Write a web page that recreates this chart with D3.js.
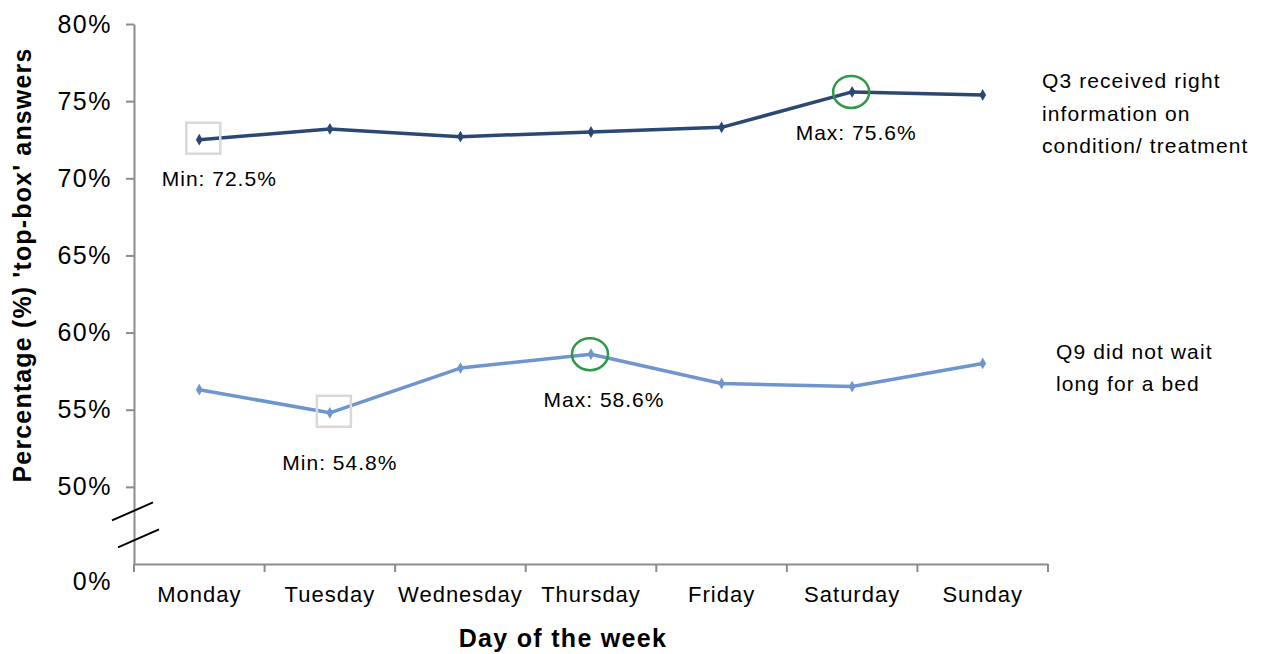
<!DOCTYPE html>
<html>
<head>
<meta charset="utf-8">
<script src="https://cdn.jsdelivr.net/npm/d3@7"></script>
<style>
  body { margin: 0; background: #fff; }
  text { font-family: 'Liberation Sans', Arial, sans-serif; fill: #000; }
</style>
</head>
<body>
<script>
const days = ['Monday', 'Tuesday', 'Wednesday', 'Thursday', 'Friday', 'Saturday', 'Sunday'];
const q3Values = [72.5, 73.2, 72.7, 73.0, 73.3, 75.6, 75.4];
const q9Values = [56.3, 54.8, 57.7, 58.6, 56.7, 56.5, 58.0];
// 45 is where the broken axis shows 0%
const tickValues = [45, 50, 55, 60, 65, 70, 75, 80];
const tickLabels = ['0%', '50%', '55%', '60%', '65%', '70%', '75%', '80%'];
const q3Label = ['Q3 received right', 'information  on', 'condition/  treatment'];
const q9Label = ['Q9 did not wait', 'long for a bed'];
const minMax = [
  { series: 'q3', day: 'Monday', kind: 'Min', value: 72.5 },
  { series: 'q3', day: 'Saturday', kind: 'Max', value: 75.6 },
  { series: 'q9', day: 'Tuesday', kind: 'Min', value: 54.8 },
  { series: 'q9', day: 'Thursday', kind: 'Max', value: 58.6 },
];
// where each min/max caption sits relative to its point
const captionOffsets = [[20, 46], [4, 48], [10, 57], [13, 53]];

const W = 1264, H = 654;
const plotLeft = 134, plotRight = 1048, plotTop = 24, plotBottom = 564;
const COLORS = { q3: '#2b4774', q9: '#6f95cf' };

const svg = d3.select('body').append('svg').attr('width', W).attr('height', H);

const x = d3.scaleBand().domain(days).range([plotLeft, plotRight]);
const y = d3.scaleLinear().domain([45, 80]).range([plotBottom, plotTop]);

// y axis
const yAxis = svg.append('g').attr('transform', `translate(${plotLeft},0)`)
  .call(d3.axisLeft(y).tickValues(tickValues).tickSize(8).tickSizeOuter(0)
    .tickFormat((d, i) => tickLabels[i]));
yAxis.select('.domain').attr('stroke', '#8c8c8c').attr('stroke-width', 2);
yAxis.selectAll('.tick line').attr('stroke', '#8c8c8c').attr('stroke-width', 2);
yAxis.selectAll('.tick text')
  .attr('x', -22).attr('font-size', 25).attr('letter-spacing', 1.5).attr('fill', '#000')
  .attr('font-family', "'Liberation Sans', Arial, sans-serif");
yAxis.selectAll('.tick').filter((d) => d === 45).select('text').attr('dy', '1.0em');
yAxis.selectAll('.tick').filter((d) => d === 45).select('line').remove();

// x axis
const xAxis = svg.append('g').attr('transform', `translate(0,${plotBottom})`)
  .call(d3.axisBottom(x).tickSize(0).tickSizeOuter(0));
xAxis.select('.domain').attr('stroke', '#8c8c8c').attr('stroke-width', 2);
xAxis.selectAll('.tick text')
  .attr('y', 38).attr('dy', 0).attr('font-size', 22).attr('letter-spacing', 1).attr('fill', '#000')
  .attr('font-family', "'Liberation Sans', Arial, sans-serif");
const bounds = days.map((d) => x(d)).concat([plotRight]);
xAxis.selectAll('.sep').data(bounds).join('line')
  .attr('x1', (d) => d).attr('x2', (d) => d)
  .attr('y1', 0).attr('y2', 8)
  .attr('stroke', '#8c8c8c').attr('stroke-width', 2);

// axis break marks
const breakY = [(y(45) + y(50)) / 2 - 14, (y(45) + y(50)) / 2 + 13];
svg.selectAll('.brk').data(breakY).join('line')
  .attr('x1', (d, i) => plotLeft - 22 + i * 6).attr('y1', (d) => d + 9)
  .attr('x2', (d, i) => plotLeft + 19 + i * 6).attr('y2', (d) => d - 9)
  .attr('stroke', '#000').attr('stroke-width', 2);

const cx = (d) => x(d) + x.bandwidth() / 2;
const line = d3.line().x((d, i) => cx(days[i])).y((d) => y(d));

const series = [
  { key: 'q3', values: q3Values },
  { key: 'q9', values: q9Values },
];

series.forEach((s) => {
  svg.append('path')
    .attr('d', line(s.values))
    .attr('fill', 'none')
    .attr('stroke', COLORS[s.key])
    .attr('stroke-width', 3.5)
    .attr('stroke-linejoin', 'round');
  svg.selectAll('.m-' + s.key).data(s.values).join('path')
    .attr('d', d3.symbol(d3.symbolDiamond, 40))
    .attr('transform', (d, i) => `translate(${cx(days[i])},${y(d)})`)
    .attr('fill', COLORS[s.key]);
});

// min / max highlights
minMax.forEach((m, i) => {
  const px = cx(m.day), py = y(m.value);
  if (m.kind === 'Max') {
    svg.append('ellipse')
      .attr('cx', px - 1).attr('cy', py)
      .attr('rx', 18).attr('ry', 16)
      .attr('fill', 'none').attr('stroke', '#2e9a47').attr('stroke-width', 2.5);
  } else {
    svg.append('rect')
      .attr('x', px - 13).attr('y', py - 17)
      .attr('width', 34).attr('height', 31)
      .attr('fill', 'none').attr('stroke', '#d9d9d9').attr('stroke-width', 2.5);
  }
  svg.append('text')
    .attr('x', px + captionOffsets[i][0]).attr('y', py + captionOffsets[i][1])
    .attr('text-anchor', 'middle')
    .attr('font-size', 21).attr('letter-spacing', 1)
    .text(`${m.kind}: ${m.value.toFixed(1)}%`);
});

// series labels
svg.append('text').attr('x', 1042).attr('y', 88).attr('font-size', 21).attr('letter-spacing', 1.1)
  .selectAll('tspan').data(q3Label).join('tspan')
  .attr('x', 1042).attr('dy', (d, i) => (i ? 32.5 : 0)).text((d) => d);
svg.append('text').attr('x', 1056).attr('y', 359).attr('font-size', 21).attr('letter-spacing', 1.1)
  .selectAll('tspan').data(q9Label).join('tspan')
  .attr('x', 1056).attr('dy', (d, i) => (i ? 31.5 : 0)).text((d) => d);

// axis titles
svg.append('text')
  .attr('transform', `translate(31,${265}) rotate(-90)`)
  .attr('text-anchor', 'middle')
  .attr('font-size', 25).attr('font-weight', 'bold').attr('letter-spacing', 1.15)
  .text("Percentage (%) 'top-box' answers");
svg.append('text')
  .attr('x', 563).attr('y', 647)
  .attr('text-anchor', 'middle')
  .attr('font-size', 25).attr('font-weight', 'bold').attr('letter-spacing', 1.3)
  .text('Day of the week');
</script>
</body>
</html>
